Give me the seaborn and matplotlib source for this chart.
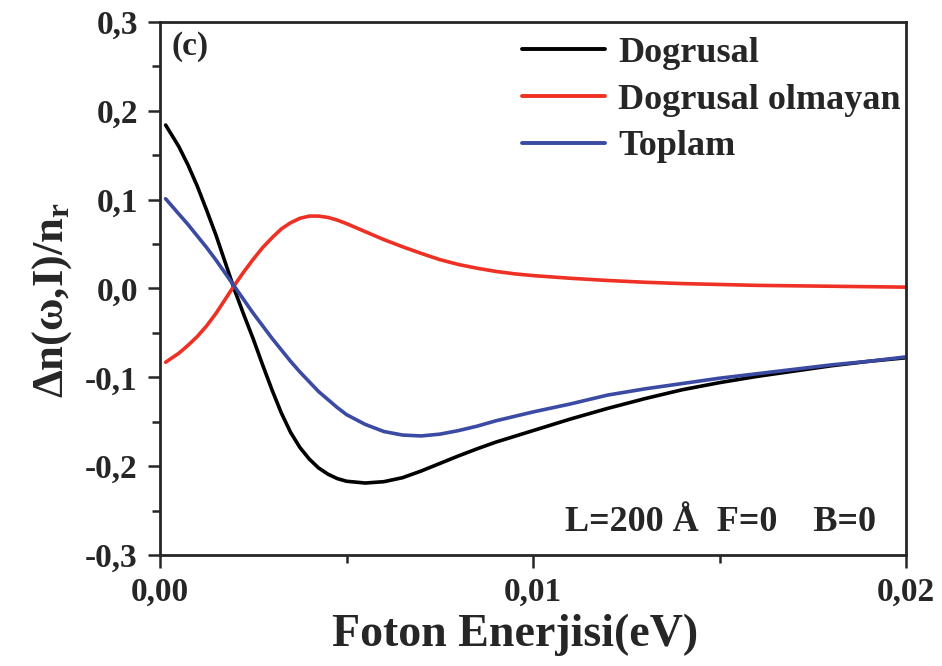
import numpy as np
import pandas as pd
import matplotlib
matplotlib.use("Agg")
import matplotlib.pyplot as plt
from matplotlib.ticker import MultipleLocator, FuncFormatter
import seaborn as sns

# Photon energy (eV)
energy = [0.00015, 0.0005, 0.00075, 0.001, 0.00125, 0.0015, 0.00175, 0.002,
          0.00225, 0.0025, 0.00275, 0.003, 0.00325, 0.0035, 0.00375, 0.004,
          0.00425, 0.0045, 0.00475, 0.005, 0.0055, 0.006, 0.0065, 0.007,
          0.0075, 0.008, 0.0085, 0.009, 0.0095, 0.010, 0.011, 0.012, 0.013,
          0.014, 0.015, 0.016, 0.017, 0.018, 0.019, 0.020]

# Relative refractive index change, linear term
linear = [0.184, 0.160, 0.139, 0.115, 0.088, 0.060, 0.029, -0.002,
          -0.030, -0.057, -0.086, -0.114, -0.140, -0.162, -0.179, -0.192,
          -0.202, -0.209, -0.214, -0.217, -0.219, -0.2175, -0.213, -0.2055,
          -0.197, -0.1885, -0.1805, -0.173, -0.1665, -0.160, -0.147, -0.135, -0.124,
          -0.114, -0.106, -0.099, -0.093, -0.087, -0.082, -0.078]

# Nonlinear (third-order) term
nonlinear = [-0.083, -0.073, -0.064, -0.054, -0.042, -0.028, -0.012, 0.004,
             0.019, 0.033, 0.046, 0.057, 0.067, 0.074, 0.079, 0.0815,
             0.0815, 0.080, 0.077, 0.073, 0.064, 0.055, 0.047, 0.0395,
             0.0325, 0.027, 0.0228, 0.0192, 0.0165, 0.0145, 0.0115, 0.009, 0.007,
             0.0055, 0.0045, 0.0035, 0.003, 0.0025, 0.002, 0.0015]

# Total change
total = [0.101, 0.084, 0.072, 0.059, 0.046, 0.032, 0.017, 0.002,
         -0.013, -0.028, -0.042, -0.056, -0.069, -0.082, -0.094, -0.105,
         -0.116, -0.125, -0.134, -0.142, -0.153, -0.161, -0.165, -0.166,
         -0.164, -0.160, -0.155, -0.149, -0.144, -0.139, -0.130, -0.120, -0.113,
         -0.107, -0.101, -0.096, -0.091, -0.086, -0.082, -0.077]

series_names = ["Dogrusal", "Dogrusal olmayan", "Toplam"]
series_colors = ["#000000", "#ee3124", "#3b4aa2"]

df = pd.concat([
    pd.DataFrame({"E": energy, "dn": vals, "seri": name})
    for name, vals in zip(series_names, [linear, nonlinear, total])
], ignore_index=True)

sns.set_theme(style="ticks")
plt.rcParams["font.family"] = ["Liberation Serif", "DejaVu Serif"]
plt.rcParams["font.weight"] = "bold"
plt.rcParams["mathtext.fontset"] = "custom"
plt.rcParams["mathtext.rm"] = "Liberation Serif:bold"
plt.rcParams["mathtext.bf"] = "Liberation Serif:bold"
plt.rcParams["mathtext.it"] = "Liberation Serif:bold"
plt.rcParams["lines.solid_joinstyle"] = "round"

fig = plt.figure(figsize=(9.42, 6.66), dpi=100)
ax = fig.add_axes([0.1699, 0.1667, 0.7919, 0.8003])

sns.lineplot(data=df, x="E", y="dn", hue="seri", hue_order=series_names,
             palette=dict(zip(series_names, series_colors)), linewidth=2.6,
             ax=ax, sort=False, estimator=None)

ax.set_xlim(0, 0.02)
ax.set_ylim(-0.3, 0.3)

ax.xaxis.set_major_locator(MultipleLocator(0.01))
ax.xaxis.set_minor_locator(MultipleLocator(0.005))
ax.yaxis.set_major_locator(MultipleLocator(0.1))
ax.yaxis.set_minor_locator(MultipleLocator(0.05))

def comma_fmt(decimals):
    def f(v, pos):
        s = f"{v:.{decimals}f}".replace(".", ",")
        if s.startswith("-") and float(s[1:].replace(",", ".")) == 0:
            s = s[1:]
        return s
    return FuncFormatter(f)

ax.xaxis.set_major_formatter(comma_fmt(2))
ax.yaxis.set_major_formatter(comma_fmt(1))

for sp in ax.spines.values():
    sp.set_linewidth(2.0)
    sp.set_visible(True)

ax.tick_params(axis="both", which="major", direction="out", length=9,
               width=1.8, labelsize=24, pad=7, top=False, right=False)
ax.tick_params(axis="both", which="minor", direction="out", length=5.5,
               width=1.8, top=False, right=False)
for lbl in ax.get_xticklabels() + ax.get_yticklabels():
    lbl.set_fontweight("bold")

ax.set_xlabel("Foton Enerjisi(eV)", fontsize=33, fontweight="bold", labelpad=4)
ax.xaxis.label.set_x(0.476)
ax.set_ylabel(r"Δn(ω,I)/n$_{\mathrm{r}}$", fontsize=32, fontweight="bold", labelpad=8)
ax.yaxis.label.set_y(0.478)

leg = ax.legend(loc="upper right", frameon=False, fontsize=26,
                handlelength=2.3, handletextpad=0.35, labelspacing=0.37,
                borderaxespad=0.1, bbox_to_anchor=(1.017, 1.006))
for line in leg.get_lines():
    line.set_linewidth(2.8)
for t in leg.get_texts():
    t.set_fontweight("bold")

ax.text(0.0003, 0.272, "(c)", fontsize=24, fontweight="bold", va="center", ha="left")
ax.text(0.01085, -0.263, "L=200 Å  F=0    B=0", fontsize=26, fontweight="bold",
        va="center", ha="left")

fig.savefig("out.png", dpi=100)
